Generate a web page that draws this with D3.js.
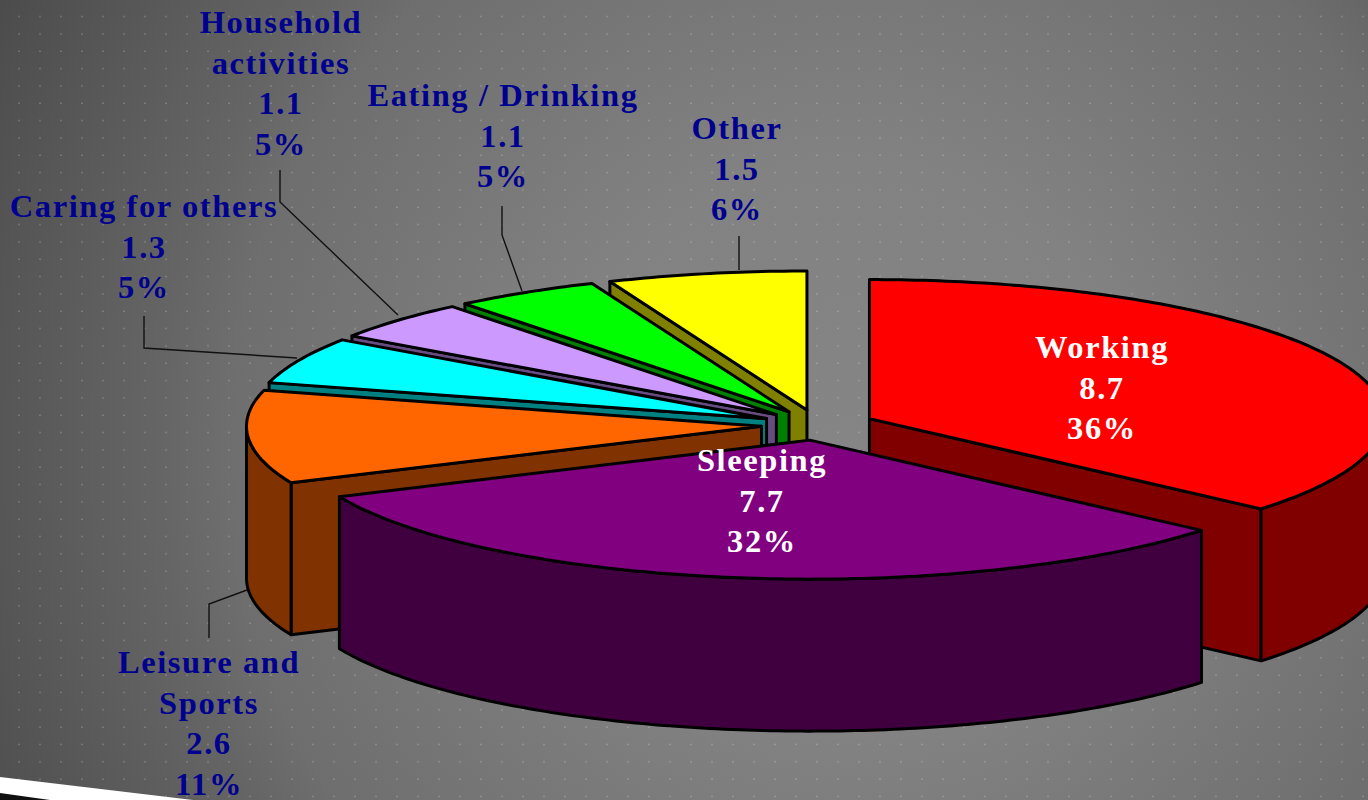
<!DOCTYPE html>
<html><head><meta charset="utf-8">
<script src="https://cdn.jsdelivr.net/npm/d3@7"></script>
<style>html,body{margin:0;padding:0;background:#777;overflow:hidden}svg{display:block}
text{font-family:"Liberation Serif",serif;font-weight:700;font-size:32.5px;letter-spacing:1.6px;text-anchor:middle}</style>
</head><body><svg id="c" width="1368" height="800"></svg>
<script>
const categories = ["Working","Sleeping","Leisure and Sports","Caring for others","Household activities","Eating / Drinking","Other"];
const values = [8.7,7.7,2.6,1.3,1.1,1.1,1.5];
const percents = ["36%","32%","11%","5%","5%","5%","6%"];
const topColors = ["#ff0000","#800080","#ff6600","#00ffff","#cc99ff","#00ff00","#ffff00"];
const sideColors = ["#800000","#400040","#803300","#008080","#664c80","#008000","#808000"];
const labelLines = [["Working"],["Sleeping"],["Leisure and","Sports"],["Caring for others"],["Household","activities"],["Eating / Drinking"],["Other"]];
const labelColors = ["#fff","#fff","#00008f","#00008f","#00008f","#00008f","#00008f"];

const W=1368,H=800,cx=818,cy=425,rx=515,ry=139,depth=152,explode=0.11;
const labelAnchors=[[1102,358],[762,471],[209,673],[144,217],[281,33],[503,106],[737,139]];
const lineGap=40.5;
const leaders=[null,null,[[209,638],[209,604],[247,590]],[[144,316],[144,348],[297,358]],[[280,170],[280,202],[398,315]],[[502,206],[502,235],[522,291]],[[739,236],[739,270]]];

const svg=d3.select("#c");
const defs=svg.append("defs");
const g=defs.append("radialGradient").attr("id","bg").attr("gradientUnits","userSpaceOnUse")
  .attr("cx",850).attr("cy",450).attr("r",960);
[[0,"#858585"],[0.3,"#828282"],[0.65,"#6e6e6e"],[0.72,"#656565"],[1,"#4c4c4c"]].forEach(s=>g.append("stop").attr("offset",s[0]).attr("stop-color",s[1]));
const pat=defs.append("pattern").attr("id","dots").attr("patternUnits","userSpaceOnUse").attr("width",21).attr("height",17.33);
pat.append("rect").attr("x",18).attr("y",16).attr("width",2).attr("height",3).attr("fill","#fff").attr("opacity",0.2);
svg.append("rect").attr("width",W).attr("height",H).attr("fill","url(#bg)");
svg.append("rect").attr("width",W).attr("height",H).attr("fill","url(#dots)");
svg.append("polygon").attr("points","0,777 193,800 0,800").attr("fill","#fff");
svg.append("polygon").attr("points","0,793 50,800 0,800").attr("fill","#111");

const arcs=d3.pie().sort(null).value(d=>d).startAngle(0).endAngle(2*Math.PI)(values);
const line=d3.line();
function pt(a,ox,oy,dz=0){return [ox+rx*Math.sin(a),oy-ry*Math.cos(a)+dz];}
function samples(a0,a1){const n=Math.max(2,Math.ceil(Math.abs(a1-a0)/0.015));return d3.range(n+1).map(i=>a0+(a1-a0)*i/n);}
const order=[6,5,4,3,2,0,1];
const layer=svg.append("g").attr("stroke","#000").attr("stroke-width",3).attr("stroke-linejoin","round");
order.forEach(i=>{
  const A=arcs[i],mid=(A.startAngle+A.endAngle)/2;
  const ox=cx+explode*rx*Math.sin(mid),oy=cy-explode*ry*Math.cos(mid);
  const side=sideColors[i];
  const face=a=>{
    const c=pt(a,ox,oy);
    layer.append("path").attr("fill",side).attr("d",line([[ox,oy],c,[c[0],c[1]+depth],[ox,oy+depth]])+"Z");
  };
  if(A.startAngle>=Math.PI) face(A.startAngle);
  if(A.endAngle<=Math.PI) face(A.endAngle);
  const w0=Math.max(A.startAngle,Math.PI/2),w1=Math.min(A.endAngle,1.5*Math.PI);
  if(w1>w0){
    const t=samples(w0,w1);
    const ring=t.map(a=>pt(a,ox,oy)).concat(t.slice().reverse().map(a=>pt(a,ox,oy,depth)));
    layer.append("path").attr("fill",side).attr("d",line(ring)+"Z");
  }
  const top=[[ox,oy]].concat(samples(A.startAngle,A.endAngle).map(a=>pt(a,ox,oy)));
  layer.append("path").attr("fill",topColors[i]).attr("d",line(top)+"Z");
});

const lead=svg.append("g").attr("fill","none").attr("stroke","#111").attr("stroke-width",1.4);
leaders.forEach(l=>{if(l)lead.append("path").attr("d",line(l));});

const txt=svg.append("g");
categories.forEach((c,i)=>{
  const lines=labelLines[i].concat([d3.format(".1f")(values[i]),percents[i]]);
  const t=txt.append("text").attr("fill",labelColors[i]);
  lines.forEach((s,k)=>t.append("tspan").attr("x",labelAnchors[i][0]).attr("y",labelAnchors[i][1]+k*lineGap).text(s));
});
</script></body></html>
